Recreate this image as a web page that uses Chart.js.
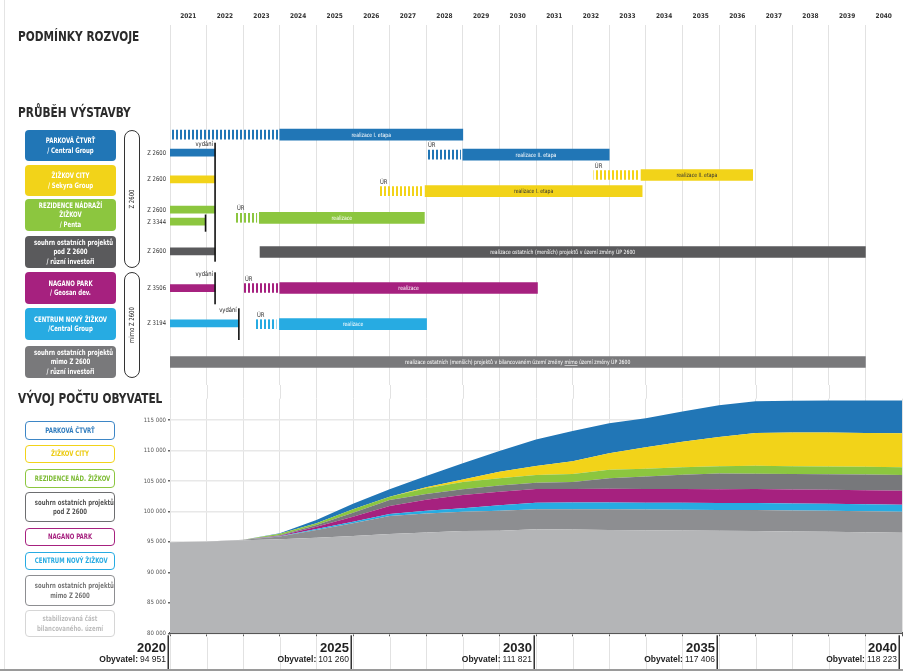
<!DOCTYPE html>
<html lang="cs">
<head>
<meta charset="utf-8">
<title>Podmínky rozvoje, průběh výstavby a vývoj počtu obyvatel</title>
<script src="https://cdn.jsdelivr.net/npm/chart.js@4.4.1/dist/chart.umd.min.js"></script>
<style>
  html, body { margin: 0; padding: 0; background: #fff; }
  body { width: 903px; height: 671px; position: relative; overflow: hidden;
         font-family: "DejaVu Sans Condensed", "Liberation Sans", sans-serif; }
  canvas { position: absolute; left: 0; }
  #gantt { top: 0; }
  #pop { top: 385px; }
  .h { position: absolute; left: 18px; font: bold 14px/1 "DejaVu Sans Condensed", "Liberation Sans", sans-serif;
       color: #2b2b2b; white-space: nowrap; transform: scaleX(0.84); transform-origin: 0 50%; }
  .box { position: absolute; left: 25px; width: 91px; border-radius: 4px; color: #fff;
         font: bold 7.5px/9.5px "DejaVu Sans Condensed", "Liberation Sans", sans-serif;
         display: flex; flex-direction: column; justify-content: center; text-align: center; }
  .leg { position: absolute; left: 25px; width: 88px; border: 1.5px solid; border-radius: 4px; background: #fff;
         font: bold 7.5px/9.5px "DejaVu Sans Condensed", "Liberation Sans", sans-serif;
         display: flex; flex-direction: column; justify-content: center; text-align: center; }
  .box div, .leg div { white-space: nowrap; transform: scaleX(0.8); }
  .pill { position: absolute; left: 124px; width: 14px; border: 1.2px solid #333; border-radius: 9px; background: #fff; }
  .pill span { position: absolute; left: 50%; top: 50%; transform: translate(-50%, -50%) rotate(-90deg) scaleX(0.85);
               white-space: nowrap; font: 7px/1 "DejaVu Sans Condensed", "Liberation Sans", sans-serif; color: #222; }
  .edge-left { position: absolute; left: 4px; top: 0; width: 1px; height: 669px; background: #e4e4e4; }
  .edge-bottom { position: absolute; left: 0; top: 669px; width: 903px; height: 2px; background: #9a9a9a; }
</style>
</head>
<body>
<canvas id="gantt" width="903" height="385"></canvas>
<canvas id="pop" width="903" height="286"></canvas>

<div class="edge-left"></div>
<div class="h" style="top:29px">PODMÍNKY ROZVOJE</div>
<div class="h" style="top:105px">PRŮBĚH VÝSTAVBY</div>
<div class="h" style="top:391px">VÝVOJ POČTU OBYVATEL</div>

<div class="box" style="top:130px;height:31px;background:#2176b6"><div>PARKOVÁ ČTVRŤ</div><div>/ Central Group</div></div>
<div class="box" style="top:165px;height:31px;background:#f2d319"><div>ŽIŽKOV CITY</div><div>/ Sekyra Group</div></div>
<div class="box" style="top:199px;height:32px;background:#8cc63f"><div>REZIDENCE NÁDRAŽÍ</div><div>ŽIŽKOV</div><div>/ Penta</div></div>
<div class="box" style="top:236px;height:32px;background:#5a5a5c"><div>souhrn ostatních projektů</div><div>pod Z 2600</div><div>/ různí investoři</div></div>
<div class="box" style="top:272px;height:32px;background:#a6217f"><div>NAGANO PARK</div><div>/ Geosan dev.</div></div>
<div class="box" style="top:308px;height:32px;background:#27abe2"><div>CENTRUM NOVÝ ŽIŽKOV</div><div>/Central Group</div></div>
<div class="box" style="top:346px;height:32px;background:#79797b"><div>souhrn ostatních projektů</div><div>mimo Z 2600</div><div>/ různí investoři</div></div>

<div class="pill" style="top:130px;height:136px"><span>Z 2600</span></div>
<div class="pill" style="top:272px;height:104px"><span>mimo Z 2600</span></div>

<div class="leg" style="top:421px;height:17px;border-color:#3d86c6;color:#2f7bbd"><div>PARKOVÁ ČTVRŤ</div></div>
<div class="leg" style="top:445px;height:16px;border-color:#f2d319;color:#eccb10"><div>ŽIŽKOV CITY</div></div>
<div class="leg" style="top:469px;height:17px;border-color:#8cc63f;color:#7dbb34"><div>REZIDENCE NÁD. ŽIŽKOV</div></div>
<div class="leg" style="top:492px;height:28px;border-color:#6d6e70;color:#555"><div>souhrn ostatních projektů</div><div>pod Z 2600</div></div>
<div class="leg" style="top:528px;height:16px;border-color:#a6217f;color:#a6217f"><div>NAGANO PARK</div></div>
<div class="leg" style="top:552px;height:16px;border-color:#27abe2;color:#27abe2"><div>CENTRUM NOVÝ ŽIŽKOV</div></div>
<div class="leg" style="top:575px;height:29px;border-color:#8d8e91;color:#777"><div>souhrn ostatních projektů</div><div>mimo Z 2600</div></div>
<div class="leg" style="top:610px;height:25px;border-color:#d6d6d6;color:#bdbdbd"><div>stabilizovaná část</div><div>bilancovaného. území</div></div>

<div class="edge-bottom"></div>

<script>
// ---------- schedule data (time axis: 2020 = end of 2020 / start of 2021) ----------
const YEAR_COLUMNS = [2021, 2022, 2023, 2024, 2025, 2026, 2027, 2028, 2029, 2030,
                      2031, 2032, 2033, 2034, 2035, 2036, 2037, 2038, 2039, 2040];

// zoning plan changes, running until they are issued ("vydání")
const permitNames = ['Z 2600', 'Z 2600', 'Z 2600', 'Z 3344', 'Z 2600', 'Z 3506', 'Z 3194'];
const permitFrom  = [2020, 2020, 2020, 2020, 2020, 2020, 2020];
const permitTo    = [2021.23, 2021.23, 2021.23, 2020.97, 2021.23, 2021.23, 2021.88];

// zoning decision (ÚR) periods
const zoningNotes = ['', 'ÚR', 'ÚR', 'ÚR', 'ÚR', 'ÚR', 'ÚR'];
const zoningFrom  = [2020.0, 2027.02, 2031.58, 2025.71, 2021.80, 2022.02, 2022.35];
const zoningTo    = [2022.96, 2027.94, 2032.82, 2026.92, 2022.37, 2022.96, 2022.90];

// construction periods
const buildNotes = [
  'realizace I. etapa', 'realizace II. etapa', 'realizace II. etapa', 'realizace I. etapa',
  'realizace', 'realizace ostatních (menších) projektů v území změny ÚP 2600',
  'realizace', 'realizace',
  'realizace ostatních (menších) projektů v bilancovaném území změny mimo území změny ÚP 2600'
];
const buildFrom = [2023.0, 2028.0, 2032.87, 2026.97, 2022.44, 2022.46, 2023.0, 2022.99, 2020.0];
const buildTo   = [2028.0, 2032.0, 2035.92, 2032.90, 2026.95, 2039.0, 2030.04, 2027.01, 2039.0];

// ---------- population by layer, end of each year ----------
const POP_YEARS = [2020, 2021, 2022, 2023, 2024, 2025, 2026, 2027, 2028, 2029, 2030,
                   2031, 2032, 2033, 2034, 2035, 2036, 2037, 2038, 2039, 2040];
const popStable       = [94951, 95050, 95250, 95450, 95700, 95950, 96300, 96550, 96780, 96840, 97060,
                         97050, 96960, 96900, 96870, 96840, 96790, 96700, 96650, 96580, 96510];
const popOtherOutside = [0, 0, 100, 450, 1250, 2100, 2950, 3100, 3170, 3280, 3290,
                         3300, 3400, 3420, 3420, 3400, 3440, 3450, 3450, 3450, 3440];
const popCentrum      = [0, 0, 0, 30, 160, 260, 330, 450, 560, 900, 1080,
                         1100, 1100, 1110, 1120, 1150, 1150, 1150, 1150, 1150, 1150];
const popNagano       = [0, 0, 0, 80, 380, 830, 1310, 1800, 2200, 2230, 2250,
                         2250, 2250, 2260, 2260, 2250, 2300, 2300, 2300, 2300, 2300];
const popOtherInside  = [0, 0, 0, 80, 280, 650, 980, 950, 935, 985, 1030,
                         1150, 1750, 2050, 2350, 2570, 2510, 2530, 2550, 2570, 2580];
const popRezidence    = [0, 0, 0, 250, 280, 550, 540, 950, 1200, 1210, 1260,
                         1300, 1360, 1260, 1230, 1200, 1310, 1290, 1280, 1270, 1260];
const popZizkovCity   = [0, 0, 0, 0, 0, 0, 0, 150, 380, 1080, 1480,
                         2100, 2740, 3550, 4200, 4810, 5360, 5520, 5560, 5570, 5570];
const popParkova      = [0, 0, 0, 60, 550, 920, 1220, 1850, 2675, 3390, 4371,
                         4950, 4900, 4750, 4950, 5186, 5240, 5210, 5260, 5320, 5413];
const POP_TICKS = [80000, 85000, 90000, 95000, 100000, 105000, 110000, 115000];
const MILESTONE_YEARS = [2020, 2025, 2030, 2035, 2040];

// ---------- styling / layout ----------
const C = {
  blue: '#2176b6', yellow: '#f2d319', green: '#8cc63f', dark: '#5a5a5c',
  magenta: '#a6217f', cyan: '#27abe2', gray: '#79797b'
};
const FONT = '"DejaVu Sans Condensed", "Liberation Sans", sans-serif';
Chart.defaults.font.family = FONT;

// vertical lane centres of the schedule rows (same units as the y scale)
const LANES = {
  permit: [152.7, 179.3, 209.7, 221.7, 251.3, 288.2, 323.3],
  zoning: [134.6, 154.6, 175, 191.2, 217.8, 288, 324.2],
  build:  [134.6, 154.6, 175, 191.2, 217.8, 252, 288, 324.2, 362]
};
const permitColors = [C.blue, C.yellow, C.green, C.green, C.dark, C.magenta, C.cyan];
const zoningColors = [C.blue, C.blue, C.yellow, C.yellow, C.green, C.magenta, C.cyan];
const buildColors  = [C.blue, C.blue, C.yellow, C.yellow, C.green, C.dark, C.magenta, C.cyan, C.gray];
const buildUnderline = [null, null, null, null, null, null, null, null, 'mimo'];
// black "issued" markers: which permit, and the lane span they cover
const ISSUE_MARKS = [
  { permit: 0, top: 142.7, bottom: 261.7, note: 'vydání' },
  { permit: 3, top: 214.5, bottom: 231.7, note: '' },
  { permit: 5, top: 272.3, bottom: 304.3, note: 'vydání' },
  { permit: 6, top: 308.3, bottom: 340.0, note: 'vydání' }
];

function stripes(color) {
  const c = document.createElement('canvas');
  c.width = 4; c.height = 4;
  const g = c.getContext('2d');
  g.fillStyle = color;
  g.fillRect(0, 0, 2, 4);
  return g.createPattern(c, 'repeat');
}

// draw condensed text: horizontally squeezed around its anchor
function squeezed(ctx, txt, x, y, k, align) {
  ctx.save();
  ctx.translate(x, y);
  ctx.scale(k, 1);
  ctx.textAlign = align;
  ctx.fillText(txt, 0, 0);
  ctx.restore();
}

const ganttText = {
  id: 'ganttText',
  afterDatasetsDraw(chart) {
    const ctx = chart.ctx;
    const xs = chart.scales.x, ys = chart.scales.y;
    ctx.save();
    ctx.textBaseline = 'middle';

    // permit names on the left of each permit bar
    ctx.font = '6.5px ' + FONT;
    ctx.fillStyle = '#333';
    chart.getDatasetMeta(0).data.forEach((bar, i) => {
      squeezed(ctx, permitNames[i], Math.min(bar.x, bar.base) - 4, bar.y + 0.5, 0.9, 'right');
    });

    // ÚR notes above the zoning stripes
    ctx.textBaseline = 'alphabetic';
    chart.getDatasetMeta(1).data.forEach((bar, i) => {
      if (zoningNotes[i]) squeezed(ctx, zoningNotes[i], Math.min(bar.x, bar.base) + 1, bar.y - bar.height / 2 - 3, 0.9, 'left');
    });

    // captions inside the construction bars
    ctx.font = '5.8px ' + FONT;
    ctx.textBaseline = 'middle';
    chart.getDatasetMeta(2).data.forEach((bar, i) => {
      const cx = (bar.x + bar.base) / 2;
      const txt = buildNotes[i];
      ctx.fillStyle = buildColors[i] === C.yellow ? '#333' : '#fff';
      const k = 0.88;
      const w = ctx.measureText(txt).width * k;
      const x0 = cx - w / 2;
      squeezed(ctx, txt, x0, bar.y + 0.5, k, 'left');
      const u = buildUnderline[i];
      if (u) {
        const at = txt.indexOf(' ' + u + ' ') + 1;
        const ux = x0 + ctx.measureText(txt.slice(0, at)).width * k;
        const uw = ctx.measureText(u).width * k;
        ctx.fillRect(ux, bar.y + 3, uw, 0.6);
      }
    });

    // issue markers
    ISSUE_MARKS.forEach(m => {
      const px = xs.getPixelForValue(permitTo[m.permit]);
      const y0 = ys.getPixelForValue(m.top), y1 = ys.getPixelForValue(m.bottom);
      ctx.fillStyle = '#111';
      ctx.fillRect(px - 0.75, y0, 1.6, y1 - y0);
      if (m.note) {
        ctx.font = '6.5px ' + FONT;
        ctx.fillStyle = '#222';
        ctx.textBaseline = 'middle';
        squeezed(ctx, m.note, px - 2, y0 + 2, 0.9, 'right');
      }
    });
    ctx.restore();
  }
};

new Chart(document.getElementById('gantt'), {
  type: 'bar',
  data: {
    datasets: [
      { label: 'změna ÚP', data: permitTo.map((t, i) => ({ x: [permitFrom[i], t], y: LANES.permit[i] })),
        backgroundColor: permitColors, barThickness: 7, grouped: false, borderWidth: 0 },
      { label: 'ÚR', data: zoningTo.map((t, i) => ({ x: [zoningFrom[i], t], y: LANES.zoning[i] })),
        backgroundColor: zoningColors.map(stripes), barThickness: 9, grouped: false, borderWidth: 0 },
      { label: 'realizace', data: buildTo.map((t, i) => ({ x: [buildFrom[i], t], y: LANES.build[i] })),
        backgroundColor: buildColors, barThickness: 11, grouped: false, borderWidth: 0 }
    ]
  },
  options: {
    indexAxis: 'y',
    responsive: false, animation: false, events: [],
    layout: { padding: { left: 170, right: 1, top: 0, bottom: 0 } },
    plugins: { legend: { display: false }, tooltip: { enabled: false } },
    scales: {
      x: {
        type: 'linear', position: 'top', min: 2020, max: 2040, stacked: false, offset: false,
        afterBuildTicks: s => { s.ticks = YEAR_COLUMNS.map(y => ({ value: y - 1 })); },
        afterFit: s => { s.height = 25; },
        ticks: { callback: (v, i) => String(YEAR_COLUMNS[i]), labelOffset: 18.3, padding: 5,
                 maxRotation: 0, autoSkip: false, color: '#333', font: { size: 6.5, weight: 'bold' } },
        grid: { color: '#e2e2e2', lineWidth: 1, drawTicks: false, offset: false },
        border: { display: false }
      },
      y: { type: 'linear', min: 25, max: 385, reverse: true, display: false, offset: false, grid: { offset: false } }
    }
  },
  plugins: [ganttText]
});

// ---------- population chart ----------
const LAYERS = [
  { name: 'stabilizovaná část bilancovaného území', values: popStable, color: '#b4b5b7' },
  { name: 'souhrn ostatních projektů mimo Z 2600', values: popOtherOutside, color: '#8d8e91' },
  { name: 'Centrum Nový Žižkov', values: popCentrum, color: C.cyan },
  { name: 'Nagano Park', values: popNagano, color: C.magenta },
  { name: 'souhrn ostatních projektů pod Z 2600', values: popOtherInside, color: '#77787b' },
  { name: 'Rezidence nád. Žižkov', values: popRezidence, color: C.green },
  { name: 'Žižkov City', values: popZizkovCity, color: C.yellow },
  { name: 'Parková čtvrť', values: popParkova, color: C.blue }
];

const fmt = v => String(Math.round(v)).replace(/\B(?=(\d{3})+(?!\d))/g, ' ');

const popBand = {
  id: 'popBand',
  beforeDatasetsDraw(chart) {
    const { ctx, chartArea, scales: { x } } = chart;
    ctx.save();
    ctx.strokeStyle = '#e2e2e2';
    ctx.lineWidth = 1;
    POP_YEARS.forEach(v => {
      if (v >= 2040) return;
      const px = Math.round(x.getPixelForValue(v)) + 0.5;
      ctx.beginPath();
      ctx.moveTo(px, 0); ctx.lineTo(px, chartArea.top);
      ctx.moveTo(px, chartArea.bottom + 4); ctx.lineTo(px, chart.height);
      ctx.stroke();
    });
    ctx.restore();
  },
  afterDraw(chart) {
    const { ctx, chartArea, scales: { x } } = chart;
    ctx.save();
    MILESTONE_YEARS.forEach(yr => {
      const idx = POP_YEARS.indexOf(yr);
      const total = LAYERS.reduce((s, l) => s + l.values[idx], 0);
      const px = Math.min(x.getPixelForValue(yr), chartArea.right - 1);
      ctx.fillStyle = '#333';
      ctx.fillRect(px - 2.5, chartArea.bottom + 2, 1.5, chart.height - chartArea.bottom);
      ctx.textAlign = 'right';
      ctx.textBaseline = 'alphabetic';
      ctx.fillStyle = '#222';
      ctx.font = 'bold 13px "Liberation Sans", sans-serif';
      ctx.fillText(String(yr), px - 4, chartArea.bottom + 19);
      ctx.font = '8.5px "Liberation Sans", sans-serif';
      const val = fmt(total);
      const vw = ctx.measureText(val).width;
      ctx.fillText(val, px - 4, chartArea.bottom + 29);
      ctx.font = 'bold 8.5px "Liberation Sans", sans-serif';
      ctx.fillText('Obyvatel:', px - 6 - vw, chartArea.bottom + 29);
    });
    ctx.restore();
  }
};

new Chart(document.getElementById('pop'), {
  type: 'line',
  data: {
    datasets: LAYERS.map((l, i) => ({
      label: l.name,
      data: POP_YEARS.map((yr, j) => ({ x: yr, y: l.values[j] })),
      backgroundColor: l.color,
      borderColor: l.color,
      borderWidth: 0,
      pointRadius: 0,
      tension: 0,
      fill: i === 0 ? 'origin' : '-1'
    }))
  },
  options: {
    responsive: false, animation: false, events: [],
    layout: { padding: { left: 0, right: 1, top: 13.7, bottom: 0 } },
    plugins: { legend: { display: false }, tooltip: { enabled: false } },
    scales: {
      x: {
        type: 'linear', min: 2020, max: 2040,
        afterBuildTicks: s => { s.ticks = POP_YEARS.map(v => ({ value: v })); },
        afterFit: s => { s.height = 37.7; },
        ticks: { display: false },
        grid: { color: '#e2e2e2', lineWidth: 1, drawTicks: true, tickLength: 3, tickColor: '#555' },
        border: { display: true, color: '#555', width: 2 }
      },
      y: {
        type: 'linear', stacked: true, min: 80000, max: 118500,
        afterBuildTicks: s => { s.ticks = POP_TICKS.map(v => ({ value: v })); },
        afterFit: s => { s.width = 170; },
        ticks: { callback: v => fmt(v), color: '#555', padding: 2, font: { size: 6 } },
        grid: { color: '#e8e8e8', lineWidth: 1.5, drawTicks: true, tickLength: 2, tickColor: '#666' },
        border: { display: false }
      }
    }
  },
  plugins: [popBand]
});
</script>
</body>
</html>
